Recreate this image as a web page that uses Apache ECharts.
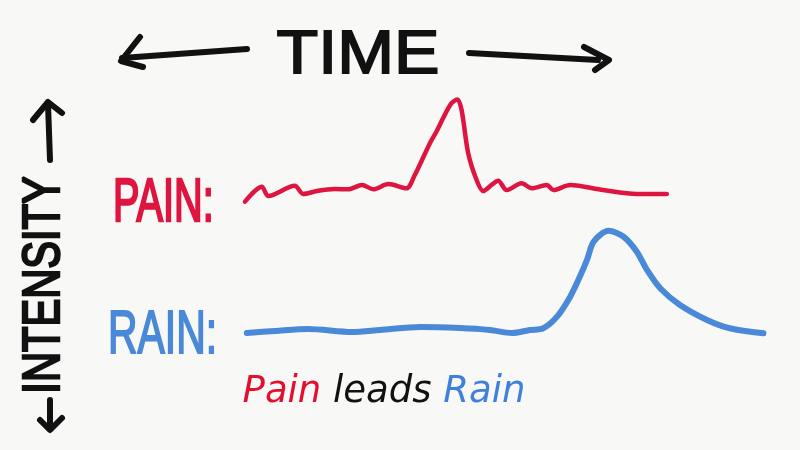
<!DOCTYPE html>
<html>
<head>
<meta charset="utf-8">
<script src="https://cdn.jsdelivr.net/npm/echarts@6/dist/echarts.min.js"></script>
<style>
html,body{margin:0;padding:0;background:#f8f8f6;}
#c{width:800px;height:450px;}
</style>
</head>
<body>
<div id="c"></div>
<script>
// Time positions (0-100) and intensity (0-10)
const painTime = [7.5,10.3,11.4,15.8,17.2,19.7,22.5,24.7,27.0,28.9,31.4,34.4,35.8,38.3,39.4,41.7,42.9,43.6,44.7,46.1,47.2,48.6,49.7,51.1,53.6,55.3,57.8,58.9,61.7,67.2,72.8,77.8];
const painValue = [0.3,1.66,0.82,1.75,1.0,1.3,1.45,1.43,1.82,1.43,1.9,1.52,2.73,5.6,6.66,9.1,9.6,8.64,4.7,2.27,1.27,1.82,2.2,1.36,1.97,1.52,1.82,1.36,1.82,1.36,1.0,1.0];
const rainTime = [7.8,12.5,18,25.3,30,36.8,43.3,48.3,52,55,57.2,59.5,61.7,63.3,64.5,65.6,68.1,70.6,72.8,74.5,76.7,80,84.5,88.3,93.9];
const rainValue = [0.61,0.78,0.96,0.7,0.87,1.13,1.04,0.87,0.61,0.87,1.02,2.03,3.77,5.5,6.96,8.55,9.5,8.98,7.68,6.09,4.5,3.04,1.74,1.02,0.58];

const painLabel = 'PAIN:';
const rainLabel = 'RAIN:';
const xTitle = 'TIME';
const yTitle = 'INTENSITY';
const caption = ['Pain', 'leads', 'Rain'];

const RED = '#de1540';
const BLUE = '#4a88d8';
const INK = '#111111';

function zip(a, b) { return a.map((v, i) => [v, b[i]]); }

const chart = echarts.init(document.getElementById('c'), null, {renderer: 'canvas'});

function arrow(points) {
  return {
    type: 'polyline',
    shape: {points: points},
    style: {stroke: INK, lineWidth: 6, fill: null, lineCap: 'round', lineJoin: 'round'},
    silent: true
  };
}

const hand = "'Liberation Sans', Arial, sans-serif";

chart.setOption({
  backgroundColor: '#f8f8f6',
  animation: false,
  grid: [
    {left: 200, right: 0, top: 95, height: 110},
    {left: 200, right: 0, top: 225, height: 115}
  ],
  xAxis: [
    {type: 'value', gridIndex: 0, min: 0, max: 100, show: false},
    {type: 'value', gridIndex: 1, min: 0, max: 100, show: false}
  ],
  yAxis: [
    {type: 'value', gridIndex: 0, min: 0, max: 10, show: false},
    {type: 'value', gridIndex: 1, min: 0, max: 10, show: false}
  ],
  series: [
    {
      name: 'Pain', type: 'line', xAxisIndex: 0, yAxisIndex: 0,
      data: zip(painTime, painValue), showSymbol: false, smooth: 0.3,
      lineStyle: {color: RED, width: 4.5, cap: 'round', join: 'round'}
    },
    {
      name: 'Rain', type: 'line', xAxisIndex: 1, yAxisIndex: 1,
      data: zip(rainTime, rainValue), showSymbol: false, smooth: 0.3,
      lineStyle: {color: BLUE, width: 6, cap: 'round', join: 'round'}
    }
  ],
  graphic: [
    // TIME title with arrows
    {
      type: 'text', x: 358, y: 56, scaleX: 1.1, silent: true,
      style: {text: xTitle, font: '62px ' + hand, fill: INK, stroke: INK, lineWidth: 1.8, align: 'center', verticalAlign: 'middle'}
    },
    arrow([[140, 37], [121, 61], [143, 67]]),
    arrow([[122, 58], [247, 49]]),
    arrow([[469, 53], [598, 60]]),
    arrow([[584, 47], [609, 60], [595, 70]]),
    // INTENSITY vertical title with arrows
    {
      type: 'text', x: 45, y: 285, rotation: Math.PI / 2, scaleX: 0.8, silent: true,
      style: {text: yTitle, font: '52px ' + hand, fill: INK, stroke: INK, lineWidth: 2.5, align: 'center', verticalAlign: 'middle'}
    },
    arrow([[33, 120], [48, 102], [62, 113]]),
    arrow([[48, 104], [50, 160]]),
    arrow([[50, 400], [50, 429]]),
    arrow([[40, 420], [50, 430], [62, 418]]),
    // series labels
    {
      type: 'text', x: 113, y: 204, scaleX: 0.64, silent: true,
      style: {text: painLabel, font: '62px ' + hand, fill: RED, stroke: RED, lineWidth: 2.5, align: 'left', verticalAlign: 'middle'}
    },
    {
      type: 'text', x: 108, y: 336, scaleX: 0.66, silent: true,
      style: {text: rainLabel, font: '62px ' + hand, fill: BLUE, stroke: BLUE, lineWidth: 2, align: 'left', verticalAlign: 'middle'}
    },
    // caption
    {
      type: 'text', x: 384, y: 392, silent: true,
      style: {
        text: '{p|' + caption[0] + '} {l|' + caption[1] + '} {r|' + caption[2] + '}',
        align: 'center', verticalAlign: 'middle',
        font: 'italic 37px "DejaVu Sans", sans-serif',
        rich: {
          p: {fill: '#e2102e', font: 'italic 37px "DejaVu Sans", sans-serif'},
          l: {fill: '#111111', font: 'italic 37px "DejaVu Sans", sans-serif'},
          r: {fill: '#3f80dc', font: 'italic 37px "DejaVu Sans", sans-serif'}
        }
      }
    }
  ]
});
</script>
</body>
</html>
